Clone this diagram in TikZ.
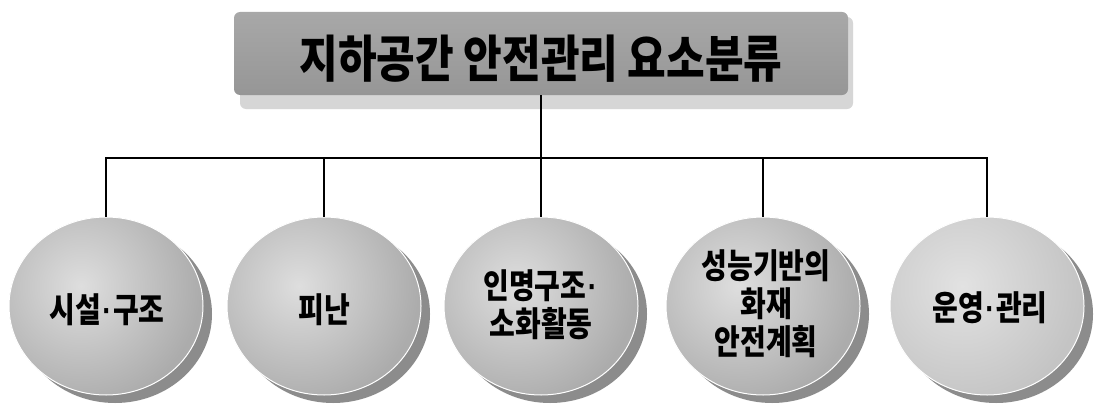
\documentclass[tikz,border=0pt]{standalone}
\usepackage{fontspec}
\setmainfont{Noto Sans CJK KR}
\newfontfamily\latinf{Liberation Sans}
\usetikzlibrary{shapes.geometric}
\definecolor{titlegray}{HTML}{A8A8A8}
\definecolor{titledark}{HTML}{969696}
\definecolor{titleshadow}{HTML}{D6D6D6}
\definecolor{shadowgray}{HTML}{8C8C8C}
\definecolor{diskgray}{HTML}{ACACAC}
\definecolor{disklight}{HTML}{DEDEDE}
\definecolor{disk5}{HTML}{C4C4C4}
\definecolor{disk5light}{HTML}{E2E2E2}
\newcommand{\md}{{\latinf\bfseries\kern0.05em ·\kern0.05em}}
\tikzset{
  link/.style={line width=1.8pt, black},
  ttl/.style={font=\fontsize{42}{48}\selectfont\bfseries, yscale=1.2, transform shape, inner sep=0pt},
  lbl/.style={font=\fontsize{28}{31}\selectfont\bfseries, align=center, yscale=1.22, transform shape, inner sep=0pt},
  bubblebox/.style={ellipse, minimum width=194pt, minimum height=178pt, inner sep=0pt},
}
% name, x, y, base colour, highlight colour
\newcommand{\mybubble}[5]{%
  \fill[shadowgray] (#2+9,#3-8) ellipse [x radius=97, y radius=89];
  \begin{scope}
    \clip (#2,#3) ellipse [x radius=97, y radius=89];
    \fill[#4] (#2,#3) ellipse [x radius=97, y radius=89];
    \shade[inner color=#5, outer color=#4] (#2-25,#3+20) circle [radius=120];
  \end{scope}
  \draw[white, line width=1pt] (#2,#3) ellipse [x radius=97, y radius=89];
  \node[bubblebox] (#1) at (#2,#3) {};
}
\begin{document}
\begin{tikzpicture}[x=1pt, y=1pt]
  \fill[white] (0,0) rectangle (1099,408);
  \useasboundingbox (0,0) rectangle (1099,408);

  % title
  \fill[titleshadow, rounded corners=6pt] (240,299) rectangle (853,391);
  \node[rectangle, rounded corners=6pt, minimum width=614pt, minimum height=83pt,
        inner sep=0pt, top color=titlegray, bottom color=titledark] (title) at (541,354.5) {};
  \node[ttl] (ttext) at (541,349) {지하공간 안전관리 요소분류};

  % bubbles
  \mybubble{b1}{106}{102}{diskgray}{disklight}
  \mybubble{b2}{324}{102}{diskgray}{disklight}
  \mybubble{b3}{541}{102}{diskgray}{disklight}
  \mybubble{b4}{763}{102}{diskgray}{disklight}
  \mybubble{b5}{987}{102}{disk5}{disk5light}

  \node[lbl] (t1) at (107,98) {시설\md 구조};
  \node[lbl] (t2) at (324,98) {피난};
  \node[lbl] (t3) at (541,103) {인명구조\md\\소화활동};
  \node[lbl] (t4) at (766,104.5) {성능기반의\\화재\\안전계획};
  \node[lbl] (t5) at (990,100.5) {운영\md 관리};

  % connectors
  \coordinate (bar) at (541,250);
  \draw[link] (title.south) -- (bar);
  \foreach \b in {b1,b2,b3,b4,b5} {
    \draw[link] (bar) -| (\b.north);
  }
\end{tikzpicture}
\end{document}
